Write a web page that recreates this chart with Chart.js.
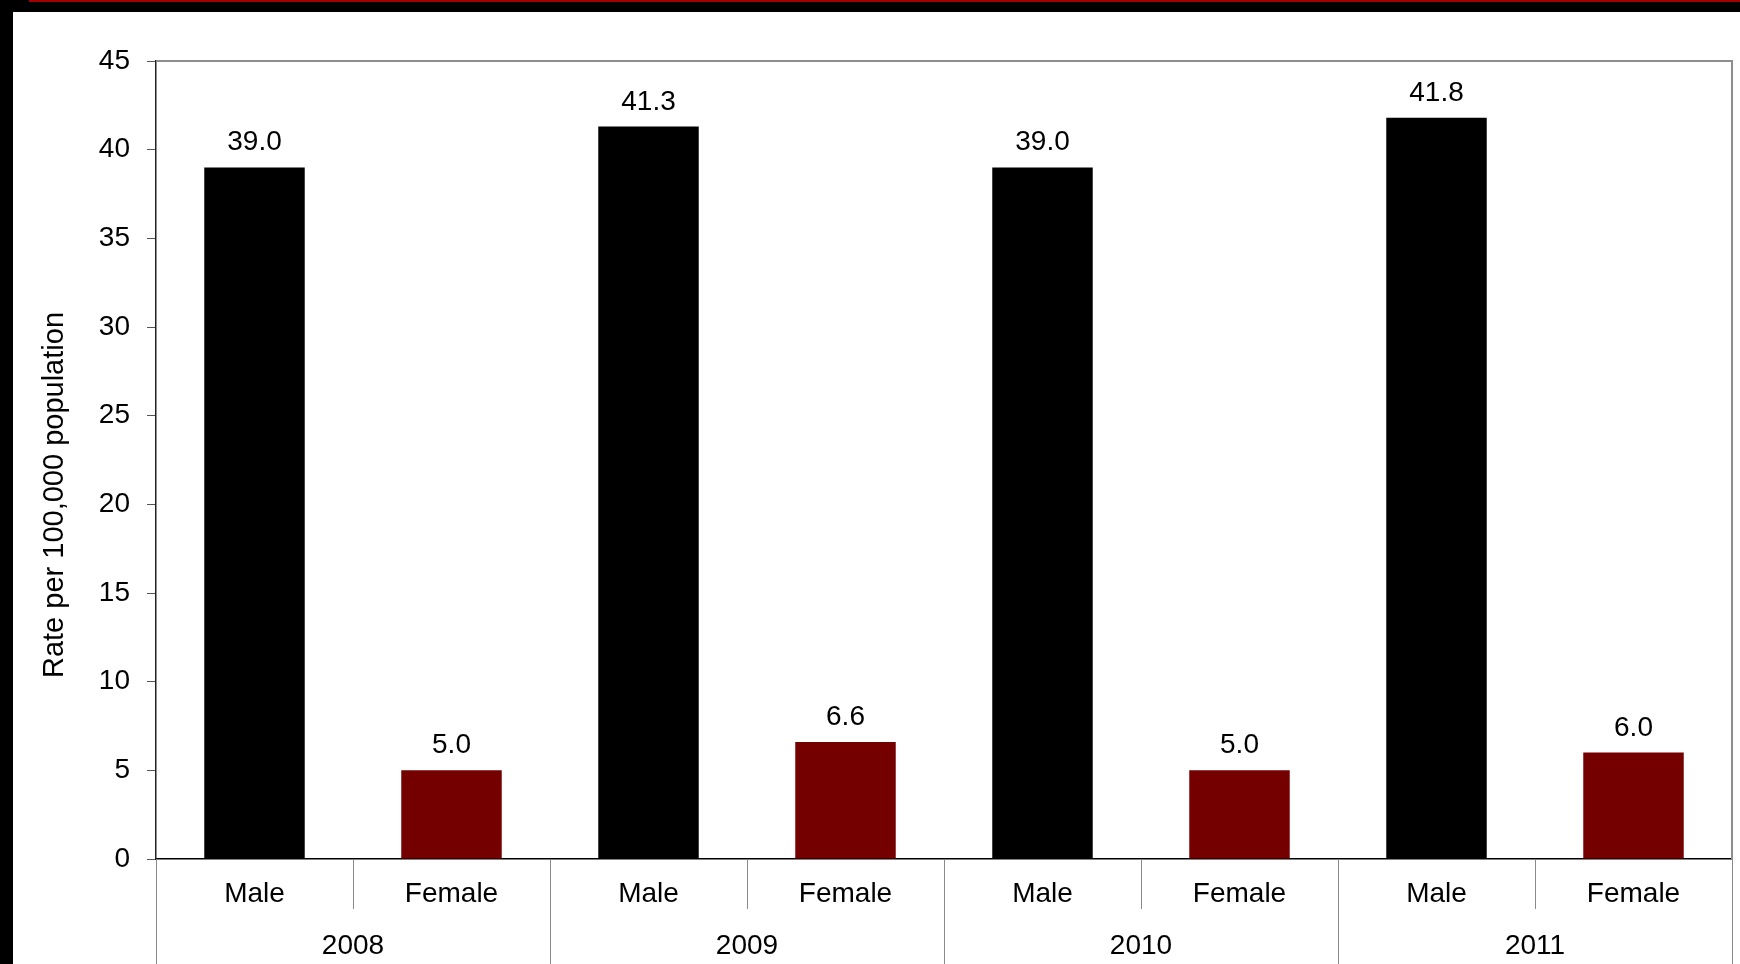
<!DOCTYPE html>
<html>
<head>
<meta charset="utf-8">
<script src="https://cdn.jsdelivr.net/npm/chart.js@4/dist/chart.umd.min.js"></script>
<style>
  html, body { margin: 0; padding: 0; background: #fff; }
  #wrap { position: relative; width: 1740px; height: 964px; overflow: hidden; }
  #frameTop { position: absolute; left: 0; top: 0; width: 1740px; height: 12px; background: #000; }
  #frameRed { position: absolute; left: 29px; top: 0; width: 1711px; height: 2px; background: #a30000; }
  #frameLeft { position: absolute; left: 0; top: 0; width: 13px; height: 964px; background: #000; }
  canvas { position: absolute; left: 0; top: 0; }
</style>
</head>
<body>
<div id="wrap">
  <canvas id="rateChart" width="1740" height="964"></canvas>
  <div id="frameTop"></div>
  <div id="frameRed"></div>
  <div id="frameLeft"></div>
</div>
<script>
const years = ['2008', '2009', '2010', '2011'];
const sexes = ['Male', 'Female'];
const maleRates = [39.0, 41.3, 39.0, 41.8];
const femaleRates = [5.0, 6.6, 5.0, 6.0];
const yTicks = [0, 5, 10, 15, 20, 25, 30, 35, 40, 45];
const axisTitle = 'Rate per 100,000 population';

const sexColors = { Male: '#000000', Female: '#740000' };
const FONT = 'Liberation Sans, Arial, sans-serif';

// one bar per year/sex pair, male first
const labels = [];
const values = [];
const colors = [];
years.forEach((y, i) => {
  labels.push(sexes[0], sexes[1]);
  values.push(maleRates[i], femaleRates[i]);
  colors.push(sexColors.Male, sexColors.Female);
});

const decorations = {
  id: 'decorations',
  afterDraw(chart) {
    const c = chart.ctx;
    const { left, right, top, bottom } = chart.chartArea;
    const x = chart.scales.x;
    const n = labels.length;
    const edge = i => {
      if (i <= 0) return left;
      if (i >= n) return right;
      return (x.getPixelForValue(i - 1) + x.getPixelForValue(i)) / 2;
    };

    c.save();
    // top and right frame of the plot
    c.strokeStyle = '#8e8e8e';
    c.lineWidth = 2;
    c.beginPath();
    c.moveTo(left, top);
    c.lineTo(right, top);
    c.lineTo(right, bottom);
    c.stroke();

    // category separators below the axis
    c.strokeStyle = '#8a8a8a';
    c.lineWidth = 1;
    for (let i = 0; i <= n; i++) {
      const px = Math.round(edge(i)) + 0.5;
      c.beginPath();
      c.moveTo(px, bottom);
      c.lineTo(px, i % 2 === 0 ? 964 : bottom + 50);
      c.stroke();
    }

    // year labels centred on each pair
    c.fillStyle = '#000';
    c.font = '28px ' + FONT;
    c.textAlign = 'center';
    c.textBaseline = 'middle';
    years.forEach((y, i) => {
      c.fillText(y, (edge(2 * i) + edge(2 * i + 2)) / 2, 946);
    });

    // value labels above bars
    const meta = chart.getDatasetMeta(0);
    c.textBaseline = 'alphabetic';
    meta.data.forEach((bar, i) => {
      c.fillText(values[i].toFixed(1), bar.x, bar.y - 17);
    });

    // y axis title
    c.translate(55, 495);
    c.rotate(-Math.PI / 2);
    c.textBaseline = 'middle';
    c.font = '29px ' + FONT;
    c.fillText(axisTitle, 0, 0);
    c.restore();
  }
};

new Chart(document.getElementById('rateChart'), {
  type: 'bar',
  data: {
    labels: labels,
    datasets: [{
      data: values,
      backgroundColor: colors,
      borderWidth: 0,
      barPercentage: 0.51,
      categoryPercentage: 1
    }]
  },
  options: {
    responsive: false,
    animation: false,
    devicePixelRatio: 1,
    layout: { padding: { top: 61, right: 8, left: 0, bottom: 0 } },
    plugins: { legend: { display: false }, tooltip: { enabled: false } },
    scales: {
      x: {
        afterFit(scale) { scale.height = 105; },
        grid: { display: false, drawTicks: false },
        border: { color: '#000', width: 1.5 },
        ticks: { color: '#000', padding: 18, font: { family: FONT, size: 28 }, maxRotation: 0, autoSkip: false }
      },
      y: {
        min: 0,
        max: 45,
        afterFit(scale) { scale.width = 156; },
        afterBuildTicks(scale) { scale.ticks = yTicks.map(v => ({ value: v })); },
        grid: { drawOnChartArea: false, drawTicks: true, tickLength: 9, tickColor: '#555' },
        border: { color: '#222', width: 1.5 },
        ticks: { color: '#000', padding: 17, font: { family: FONT, size: 28 } }
      }
    }
  },
  plugins: [decorations]
});
</script>
</body>
</html>
